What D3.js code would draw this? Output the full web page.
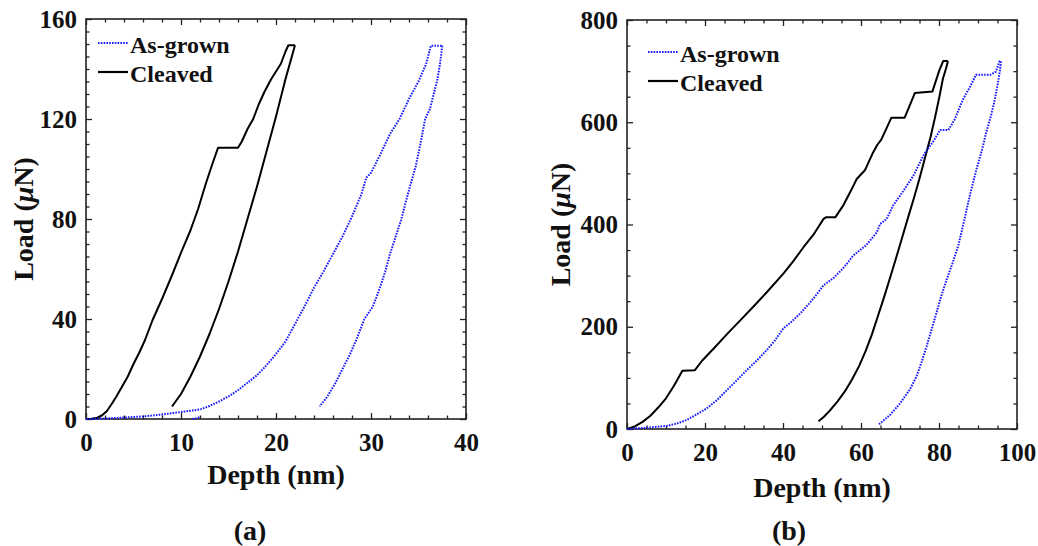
<!DOCTYPE html>
<html>
<head>
<meta charset="utf-8">
<script src="https://cdn.jsdelivr.net/npm/d3@7/dist/d3.min.js"></script>
<style>
  html, body { margin: 0; padding: 0; background: #fff; }
  svg { display: block; }
  text { font-family: "Liberation Serif", "Times New Roman", serif; font-weight: bold; fill: #111; }
</style>
</head>
<body>
<svg id="chart" width="1038" height="546"></svg>
<script>
// Nanoindentation load–depth curves: (a) low load, (b) high load.
// Each series is [depth (nm), load (µN)].

const legendLabels = ["As-grown", "Cleaved"];

// ---- Panel (a) ----
const aXTicks = [0, 10, 20, 30, 40];
const aYTicks = [0, 40, 80, 120, 160];

const aCleavedLoad = [[0,0],[0.6,0.1],[1.2,0.5],[1.7,1.5],[2.2,3.2],[2.7,6],[3.2,9],[3.8,13],[4.4,17],[5.0,22],[5.6,26.5],[6.2,31.5],[7.0,39.5],[8.0,48],[9.0,57],[10.0,66.5],[11.0,75.5],[11.8,84],[12.6,94],[13.3,102],[13.9,108.5],[15.0,108.5],[16.0,108.5],[16.4,111],[17.0,116],[17.6,120],[18.2,126],[18.8,131],[19.5,136],[20.0,139],[20.5,142],[21.0,147],[21.3,149.5],[22.0,149.5]];
const aCleavedUnload = [[22.0,149.5],[21.0,136],[20.0,121],[19.0,107],[18.0,93],[17.0,80],[16.0,67],[15.0,55],[14.0,44],[13.0,34],[12.0,25],[11.0,17],[10.0,10],[9.05,5]];
const aAsGrownLoad = [[0,0],[2,0.2],[4,0.6],[6,1],[8,1.8],[10,2.8],[12,3.8],[13,5.2],[14,7],[15,9],[16,11.5],[17,14.5],[18,17.5],[19,21.5],[20,26],[21,31],[22,38],[23,45],[24,52.5],[25,59],[26,66],[27,73],[28,81],[29,90],[29.5,96.5],[30,98.5],[31,106],[32,114],[33,120],[34,128],[35,135],[35.8,142],[36.3,149.3],[37.5,149.3]];
const aAsGrownUnload = [[37.5,149.3],[37.3,143],[37.0,136],[36.6,130],[36.2,124],[35.7,120],[35.2,110],[34.7,101],[34.1,93],[33.6,86],[33.2,80],[32.6,73],[32.0,66],[31.5,59],[30.8,51],[30.2,45],[29.3,40],[28.6,33],[27.8,26],[27.0,20],[26.2,14],[25.4,9],[24.6,5]];
const aAsGrownTail = [[11.2,0],[11.6,0.3],[12.0,0.8]];

// ---- Panel (b) ----
const bXTicks = [0, 20, 40, 60, 80, 100];
const bYTicks = [0, 200, 400, 600, 800];

const bCleavedLoad = [[0,0],[2,5],[4,14],[6,26],[8,42],[10,60],[12,84],[14.2,114],[17.4,115],[19.3,134],[22.3,158],[25.7,186],[29.1,213],[32.5,240],[35.9,268],[40.2,305],[42.7,329],[45.3,356],[47.8,380],[50.4,411],[51,414],[53.4,414],[55.5,438],[57.6,469],[58.9,489],[61.0,506],[63.1,541],[64.2,556],[65.2,566],[67.8,609],[71.2,609],[73.8,657],[78.3,660],[80.1,702],[81.1,720],[82.3,720]];
const bCleavedUnload = [[82.3,720],[81.8,705],[81.0,685],[80.1,650],[79.0,610],[77.8,570],[76.4,530],[75.0,490],[73.5,450],[72.0,412],[70.5,373],[68.9,332],[67.3,292],[65.8,255],[64.3,220],[62.8,185],[61.2,153],[59.5,123],[57.7,97],[55.9,74],[54.0,54],[52.0,36],[50.5,24],[49.1,15]];
const bAsGrownLoad = [[0,0],[5.3,2.7],[10.2,6],[12.9,11],[15.3,17.6],[17.5,27],[20.4,40],[23,56],[25.6,76],[28,94],[30.7,115],[33.3,134],[35.8,154],[38,174],[40.1,197],[42.2,210],[44.4,226],[46.8,246],[49.1,268],[50.4,281],[52.9,295],[55.5,315],[58,339],[61.4,360],[64,384],[64.9,401],[66.6,411],[68.3,438],[70.8,465],[73.4,495],[76.3,539],[78.5,562],[80.3,585],[82.4,585],[84.0,605],[86.1,644],[88,670],[89.5,693],[93.2,693],[94.6,699],[95.5,719],[95.9,719]];
const bAsGrownUnload = [[95.9,719],[95.6,700],[95.0,672],[94.2,640],[93.3,612],[92.1,580],[91.0,545],[89.5,505],[88.0,460],[86.5,409],[85.0,360],[83.5,325],[81.9,291],[80.5,258],[79.3,226],[78.0,192],[76.8,161],[75.5,130],[74.2,102],[72.5,77],[70.0,50],[67.5,28],[64.6,9]];

const svg = d3.select("#chart");

const styles = {
  asGrown: { color: "#1a1aff", dash: "1.6,1.2", width: 2 },
  cleaved: { color: "#000", dash: null, width: 2 }
};

function drawPanel(cfg) {
  const x = d3.scaleLinear().domain(cfg.xDomain).range([cfg.left, cfg.right]);
  const y = d3.scaleLinear().domain(cfg.yDomain).range([cfg.bottom, cfg.top]);
  const g = svg.append("g");

  const minorX = d3.range(cfg.xDomain[0], cfg.xDomain[1] + 1e-9, cfg.xMinor).filter(v => !cfg.xTicks.includes(v));
  const minorY = d3.range(cfg.yDomain[0], cfg.yDomain[1] + 1e-9, cfg.yMinor).filter(v => !cfg.yTicks.includes(v));

  const styleAxis = sel => {
    sel.select(".domain").remove();
    sel.selectAll("line").attr("stroke", "#222").attr("stroke-width", 1.3);
    sel.selectAll("text").style("font-size", "25px");
  };

  // bottom
  g.append("g").attr("transform", `translate(0,${cfg.bottom})`)
    .call(d3.axisBottom(x).tickValues(cfg.xTicks).tickSize(-6).tickPadding(14).tickFormat(d3.format("d")))
    .call(styleAxis);
  g.append("g").attr("transform", `translate(0,${cfg.bottom})`)
    .call(d3.axisBottom(x).tickValues(minorX).tickSize(-3.5).tickFormat(""))
    .call(styleAxis);
  // top
  g.append("g").attr("transform", `translate(0,${cfg.top})`)
    .call(d3.axisTop(x).tickValues(cfg.xTicks).tickSize(-6).tickFormat(""))
    .call(styleAxis);
  g.append("g").attr("transform", `translate(0,${cfg.top})`)
    .call(d3.axisTop(x).tickValues(minorX).tickSize(-3.5).tickFormat(""))
    .call(styleAxis);
  // left
  g.append("g").attr("transform", `translate(${cfg.left},0)`)
    .call(d3.axisLeft(y).tickValues(cfg.yTicks).tickSize(-6).tickPadding(9).tickFormat(d3.format("d")))
    .call(styleAxis);
  g.append("g").attr("transform", `translate(${cfg.left},0)`)
    .call(d3.axisLeft(y).tickValues(minorY).tickSize(-3.5).tickFormat(""))
    .call(styleAxis);
  // right
  g.append("g").attr("transform", `translate(${cfg.right},0)`)
    .call(d3.axisRight(y).tickValues(cfg.yTicks).tickSize(-6).tickFormat(""))
    .call(styleAxis);
  g.append("g").attr("transform", `translate(${cfg.right},0)`)
    .call(d3.axisRight(y).tickValues(minorY).tickSize(-3.5).tickFormat(""))
    .call(styleAxis);

  // frame
  g.append("rect")
    .attr("x", cfg.left).attr("y", cfg.top)
    .attr("width", cfg.right - cfg.left).attr("height", cfg.bottom - cfg.top)
    .attr("fill", "none").attr("stroke", "#222").attr("stroke-width", 1.6);

  // curves
  const line = d3.line().x(d => x(d[0])).y(d => y(d[1]));
  cfg.series.forEach(s => {
    const st = styles[s.kind];
    g.append("path")
      .datum(s.data)
      .attr("d", line)
      .attr("fill", "none")
      .attr("stroke", st.color)
      .attr("stroke-width", st.width)
      .attr("stroke-linejoin", "round")
      .attr("stroke-dasharray", st.dash);
  });

  // legend
  const lg = g.append("g");
  ["asGrown", "cleaved"].forEach((k, i) => {
    const st = styles[k];
    const ly = cfg.legend.y + i * 29;
    lg.append("line")
      .attr("x1", cfg.legend.x).attr("x2", cfg.legend.x + 30)
      .attr("y1", ly).attr("y2", ly)
      .attr("stroke", st.color).attr("stroke-width", 2.2)
      .attr("stroke-dasharray", k === "asGrown" ? "1.6,1.2" : null);
    lg.append("text")
      .attr("x", cfg.legend.x + 32).attr("y", ly + 10)
      .style("font-size", "24px")
      .text(legendLabels[i]);
  });

  // axis titles
  g.append("text")
    .attr("x", (cfg.left + cfg.right) / 2).attr("y", cfg.xTitleY)
    .attr("text-anchor", "middle").style("font-size", "28px")
    .text("Depth (nm)");
  const yt = g.append("text")
    .attr("transform", `translate(${cfg.yTitleX},${(cfg.top + cfg.bottom) / 2}) rotate(-90)`)
    .attr("text-anchor", "middle").style("font-size", "28px");
  yt.append("tspan").text("Load (");
  yt.append("tspan").style("font-style", "italic").text("\u03bc");
  yt.append("tspan").text("N)");

  // panel tag
  g.append("text")
    .attr("x", cfg.tagX).attr("y", 540)
    .attr("text-anchor", "middle").style("font-size", "28px")
    .text(cfg.tag);
}

drawPanel({
  xDomain: [0, 40], yDomain: [0, 160],
  xTicks: aXTicks, yTicks: aYTicks, xMinor: 2, yMinor: 5,
  left: 86, right: 466, top: 19, bottom: 419,
  legend: { x: 98, y: 43 },
  xTitleY: 484, yTitleX: 33, tagX: 250, tag: "(a)",
  series: [
    { kind: "cleaved", data: aCleavedLoad },
    { kind: "cleaved", data: aCleavedUnload },
    { kind: "asGrown", data: aAsGrownLoad },
    { kind: "asGrown", data: aAsGrownUnload },
    { kind: "asGrown", data: aAsGrownTail }
  ]
});

drawPanel({
  xDomain: [0, 100], yDomain: [0, 800],
  xTicks: bXTicks, yTicks: bYTicks, xMinor: 5, yMinor: 50,
  left: 627, right: 1017, top: 20, bottom: 429,
  legend: { x: 648, y: 52 },
  xTitleY: 497, yTitleX: 570, tagX: 789, tag: "(b)",
  series: [
    { kind: "cleaved", data: bCleavedLoad },
    { kind: "cleaved", data: bCleavedUnload },
    { kind: "asGrown", data: bAsGrownLoad },
    { kind: "asGrown", data: bAsGrownUnload }
  ]
});
</script>
</body>
</html>
